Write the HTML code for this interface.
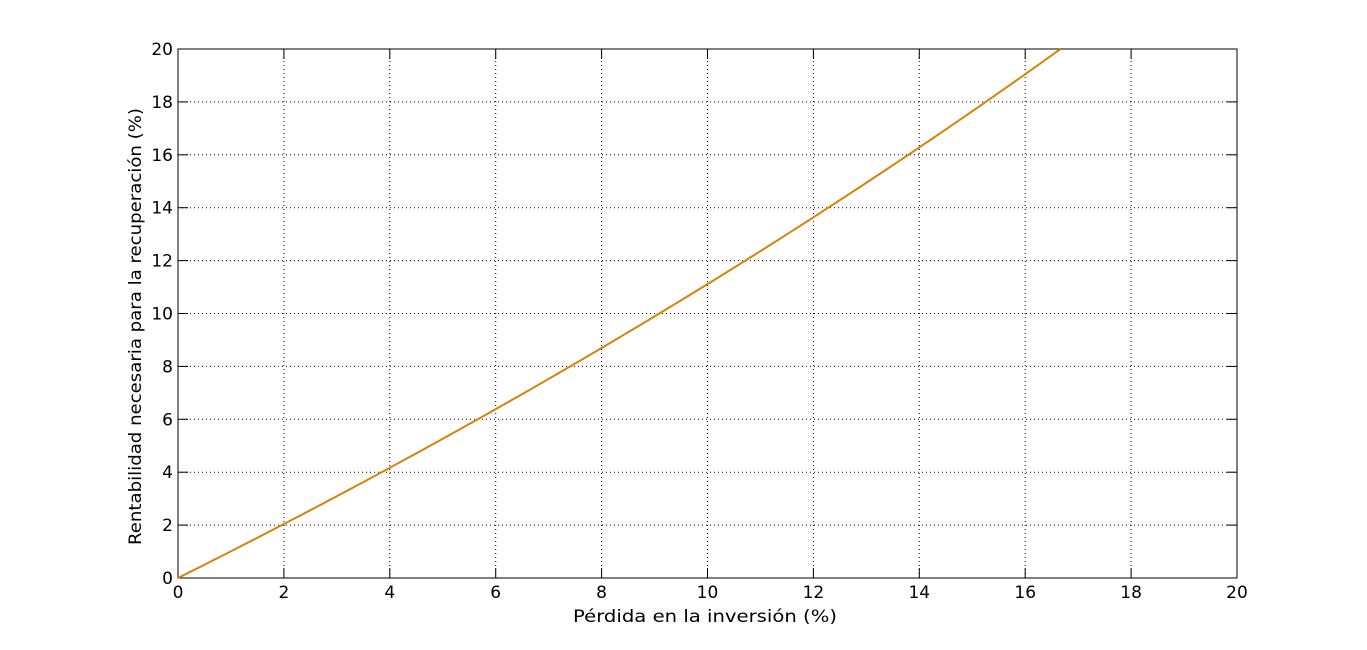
<!DOCTYPE html>
<html><head><meta charset="utf-8"><style>
html,body{margin:0;padding:0;background:#fff;}
svg{display:block;font-family:"DejaVu Sans","Liberation Sans",sans-serif;}
</style></head><body>
<svg id="s" width="1367" height="650" xmlns="http://www.w3.org/2000/svg">
<rect width="1367" height="650" fill="#fff"/>
<g id="g"></g>
</svg>
<script>
const L=178,R=1237,T=49,B=578;
const X=v=>L+(R-L)*v/20, Y=v=>B-(B-T)*v/20;
let h='';
for(let i=0;i<=10;i++){
 const v=i*2,x=X(v),y=Y(v);
 if(i>0&&i<10){
  h+=`<line x1="${x}" y1="${T}" x2="${x}" y2="${B}" stroke="#000" stroke-width="1" stroke-dasharray="1,3"/>`;
  h+=`<line x1="${L}" y1="${y}" x2="${R}" y2="${y}" stroke="#000" stroke-width="1" stroke-dasharray="1,3"/>`;
 }
 h+=`<line x1="${x}" y1="${B}" x2="${x}" y2="${B-10}" stroke="#000"/><line x1="${x}" y1="${T}" x2="${x}" y2="${T+10}" stroke="#000"/>`;
 h+=`<line x1="${L}" y1="${y}" x2="${L+10}" y2="${y}" stroke="#000"/><line x1="${R}" y1="${y}" x2="${R-10}" y2="${y}" stroke="#000"/>`;
 h+=`<text x="${x}" y="${B+20}" font-size="17" text-anchor="middle">${v}</text>`;
 h+=`<text x="${L-5}" y="${y+6}" font-size="17" text-anchor="end">${v}</text>`;
}
h+=`<rect x="${L}" y="${T}" width="${R-L}" height="${B-T}" fill="none" stroke="#000" stroke-width="1"/>`;
let d='';
for(let v=0;v<=16.6667;v+=0.1){const y=100*v/(100-v);d+=(d?'L':'M')+X(v).toFixed(2)+','+Y(y).toFixed(2);}
d+='L'+X(100/6).toFixed(2)+','+Y(20).toFixed(2);
h+=`<path d="${d}" fill="none" stroke="#d9820a" stroke-width="2"/>`;
h+=`<text x="573" y="622" font-size="17" textLength="264" lengthAdjust="spacingAndGlyphs">Pérdida en la inversión (%)</text>`;
h+=`<text transform="translate(141,545) rotate(-90)" font-size="17" textLength="437" lengthAdjust="spacingAndGlyphs">Rentabilidad necesaria para la recuperación (%)</text>`;
document.getElementById('g').innerHTML=h;
</script>
</body></html>
